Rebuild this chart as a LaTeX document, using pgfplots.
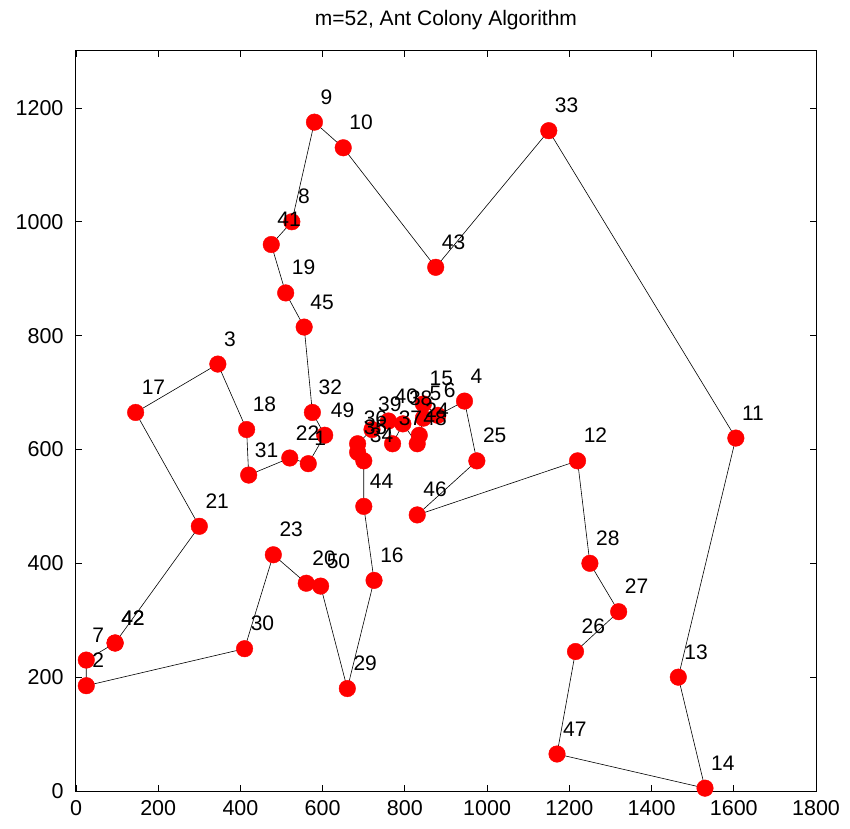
\documentclass[border=0pt]{standalone}
\usepackage{pgfplots}
\usepackage{pgfplotstable}
\pgfplotsset{compat=1.18}
\usepackage{fontspec}
\setmainfont{Liberation Sans}
\pgfplotstableread{
x y lab
95 260 42
300 465 21
145 665 17
345 750 3
415 635 18
420 555 31
520 585 22
565 575 1
605 625 49
575 665 32
555 815 45
510 875 19
475 960 41
525 1000 8
580 1175 9
650 1130 10
875 920 43
1150 1160 33
1605 620 11
1465 200 13
1530 5 14
1170 65 47
1215 245 26
1320 315 27
1250 400 28
1220 580 12
830 485 46
975 580 25
945 685 4
880 660 6
845 680 15
845 655 5
835 625 24
830 610 48
795 645 38
770 610 37
760 650 40
720 635 39
685 610 36
685 595 35
700 580 34
700 500 44
725 370 16
660 180 29
595 360 50
560 365 20
480 415 23
410 250 30
25 185 2
25 230 7
95 260 42
}\tour
\begin{document}
\begin{tikzpicture}
\begin{axis}[
  scale only axis, width=740pt, height=740pt,
  xmin=0, xmax=1800, ymin=0, ymax=1300,
  xtick={0,200,...,1800}, ytick={0,200,...,1200},
  tick align=inside, major tick length=6pt,
  axis line style={line width=1pt},
  tick style={line width=0.8pt, black},
  /pgf/number format/assume math mode=true,
  /pgf/number format/1000 sep={},
  ticklabel style={font=\fontsize{21.5}{25}\selectfont},
  xticklabel style={yshift=-6pt},
  yticklabel style={xshift=-9pt},
  clip=false,
]
\coordinate (sw) at (rel axis cs:0,0);
\coordinate (tc) at (rel axis cs:0.5,1);
\addplot[black, line width=0.6pt, mark=none] table[x=x,y=y]{\tour};
\addplot[only marks, mark=*, mark size=8.3pt, mark options={fill=red, draw=red}] table[x=x,y=y]{\tour};
\addplot[draw=none, mark=none, nodes near coords, point meta=explicit symbolic,
  nodes near coords style={anchor=base west, inner sep=0pt, xshift=6pt, yshift=18pt, font=\fontsize{21}{25}\selectfont, text=black}]
  table[x=x,y=y,meta=lab]{\tour};
\end{axis}
\node[anchor=base, font=\fontsize{21}{25}\selectfont] at ([yshift=25pt]tc) {m=52, Ant Colony Algorithm};
\path (sw) ++(-76pt,-37pt) rectangle ++(850pt,828pt);
\end{tikzpicture}
\end{document}
